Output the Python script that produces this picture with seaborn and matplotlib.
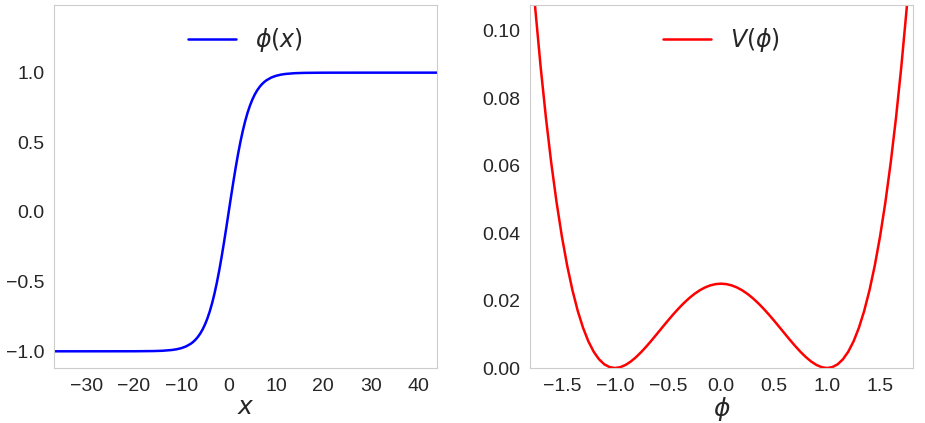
import numpy as np
import pandas as pd
import seaborn as sns
import matplotlib
matplotlib.use("Agg")
import matplotlib.pyplot as plt

# kink profile phi(x)
x_vals = [-40, -30, -20, -16, -14, -12, -11, -10, -9, -8, -7.5, -7, -6.5, -6, -5.5, -5,
          -4.5, -4, -3.5, -3, -2.5, -2, -1.5, -1, -0.5, 0, 0.5, 1, 1.5, 2, 2.5, 3, 3.5,
          4, 4.5, 5, 5.5, 6, 6.5, 7, 7.5, 8, 9, 10, 11, 12, 14, 16, 20, 30, 45]
phi_vals = [-1.0, -1.0, -0.9997, -0.9984, -0.9962, -0.9907, -0.9855, -0.9774, -0.9649,
            -0.9457, -0.9325, -0.9163, -0.8964, -0.8721, -0.8425, -0.8069, -0.7642,
            -0.7136, -0.6542, -0.5855, -0.5072, -0.4196, -0.3234, -0.2199, -0.1113, 0.0,
            0.1113, 0.2199, 0.3234, 0.4196, 0.5072, 0.5855, 0.6542, 0.7136, 0.7642,
            0.8069, 0.8425, 0.8721, 0.8964, 0.9163, 0.9325, 0.9457, 0.9649, 0.9774,
            0.9855, 0.9907, 0.9962, 0.9984, 0.9997, 1.0, 1.0]

# double well potential V(phi)
phi_grid = [-1.85, -1.8, -1.75, -1.7, -1.65, -1.6, -1.55, -1.5, -1.45, -1.4, -1.35, -1.3,
            -1.25, -1.2, -1.15, -1.1, -1.05, -1.0, -0.95, -0.9, -0.85, -0.8, -0.75, -0.7,
            -0.65, -0.6, -0.55, -0.5, -0.45, -0.4, -0.35, -0.3, -0.25, -0.2, -0.15, -0.1,
            -0.05, 0.0, 0.05, 0.1, 0.15, 0.2, 0.25, 0.3, 0.35, 0.4, 0.45, 0.5, 0.55, 0.6,
            0.65, 0.7, 0.75, 0.8, 0.85, 0.9, 0.95, 1.0, 1.05, 1.1, 1.15, 1.2, 1.25, 1.3,
            1.35, 1.4, 1.45, 1.5, 1.55, 1.6, 1.65, 1.7, 1.75, 1.8, 1.85]
V_vals = [0.146713, 0.12544, 0.106348, 0.089303, 0.074175, 0.06084, 0.049175, 0.039063,
          0.030388, 0.02304, 0.016913, 0.011903, 0.00791, 0.00484, 0.0026, 0.001103,
          0.000263, 0.0, 0.000238, 0.000903, 0.001925, 0.00324, 0.004785, 0.006503,
          0.008338, 0.01024, 0.012163, 0.014063, 0.0159, 0.01764, 0.01925, 0.020703,
          0.021973, 0.02304, 0.023888, 0.024503, 0.024875, 0.025, 0.024875, 0.024503,
          0.023888, 0.02304, 0.021973, 0.020703, 0.01925, 0.01764, 0.0159, 0.014063,
          0.012163, 0.01024, 0.008338, 0.006503, 0.004785, 0.00324, 0.001925, 0.000903,
          0.000238, 0.0, 0.000263, 0.001103, 0.0026, 0.00484, 0.00791, 0.011903,
          0.016913, 0.02304, 0.030388, 0.039063, 0.049175, 0.06084, 0.074175, 0.089303,
          0.106348, 0.12544, 0.146713]

x_ticks = [-30, -20, -10, 0, 10, 20, 30, 40]
phi_ticks = [-1.5, -1.0, -0.5, 0.0, 0.5, 1.0, 1.5]

sns.set_style("whitegrid")
plt.rcParams['font.family'] = ['Liberation Sans', 'DejaVu Sans']

fig, (ax1, ax2) = plt.subplots(1, 2, figsize=(9.25, 4.23), dpi=100)
fig.subplots_adjust(left=0.0584, right=0.987, top=0.988, bottom=0.130, wspace=0.243)

sns.lineplot(x=x_vals, y=phi_vals, color='blue', lw=1.8, label=r'$\phi(x)$', ax=ax1)
ax1.set_xlim(-36.9, 44.0)
ax1.set_ylim(-1.12, 1.485)
ax1.set_xticks(x_ticks)
ax1.set_yticks([-1.0, -0.5, 0.0, 0.5, 1.0])
ax1.set_xlabel(r'$x$', fontsize=18, labelpad=0)

sns.lineplot(x=phi_grid, y=V_vals, color='red', lw=1.8, label=r'$V(\phi)$', ax=ax2)
ax2.set_xlim(-1.80, 1.81)
ax2.set_ylim(0, 0.1076)
ax2.set_xticks(phi_ticks)
ax2.set_xlabel(r'$\phi$', fontsize=18, labelpad=0)

for ax in (ax1, ax2):
    ax.grid(False)
    ax.tick_params(labelsize=14)
    ax.legend(loc='upper center', frameon=False, fontsize=17)

plt.savefig("out.png", dpi=100)
